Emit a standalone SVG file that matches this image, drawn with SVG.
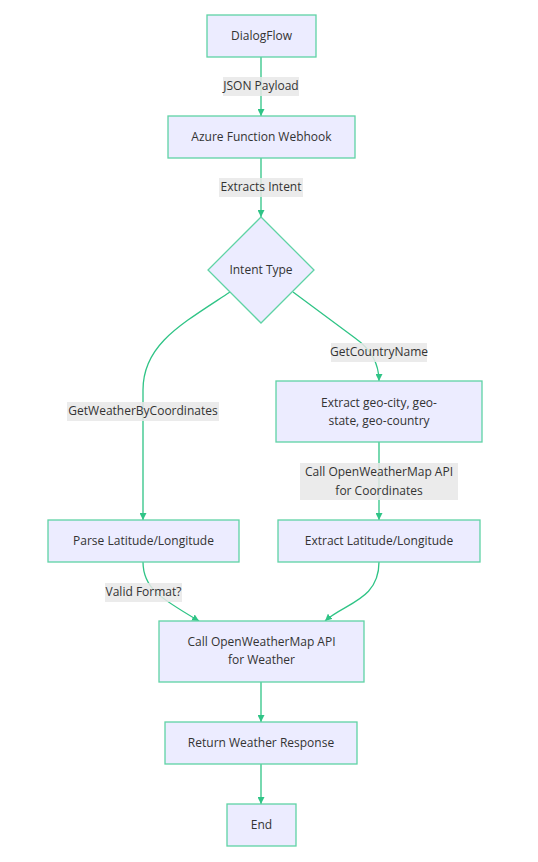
<svg xmlns="http://www.w3.org/2000/svg" width="538" height="862" viewBox="0 0 538 862">
<style>
.node rect,.node polygon{fill:#ECECFF;stroke:#5fd3a5;stroke-width:1.3}
.node text,.lbl text{font-family:"Open Sans","Liberation Sans",sans-serif;font-size:12px;fill:#333;text-anchor:middle;dominant-baseline:central}
.edge{fill:none;stroke:#2fc486;stroke-width:1.3}
.lbl rect{fill:#e8e8e8;opacity:0.85}
</style>
<defs>
<marker id="ah" viewBox="0 0 10 10" refX="10" refY="5" markerWidth="7" markerHeight="7" orient="auto" markerUnits="userSpaceOnUse">
<path d="M0,0 L10,5 L0,10 z" fill="#2fc486"/>
</marker>
</defs>
<rect width="538" height="862" fill="#fff"/>
<g id="connectors">
<path class="edge" d="M261,57 L261,116" marker-end="url(#ah)"/>
<path class="edge" d="M261,158 L261,217" marker-end="url(#ah)"/>
<path class="edge" d="M230,292 C180,325 143,345 143,390 L143,520" marker-end="url(#ah)"/>
<path class="edge" d="M293,292 L355,338 Q379,355 379,381" marker-end="url(#ah)"/>
<path class="edge" d="M379,442 L379,520" marker-end="url(#ah)"/>
<path class="edge" d="M143,562 C143,588 160,598 199,621" marker-end="url(#ah)"/>
<path class="edge" d="M379,562 C379,600 345,603 325,621" marker-end="url(#ah)"/>
<path class="edge" d="M261,682 L261,722" marker-end="url(#ah)"/>
<path class="edge" d="M261,764 L261,804" marker-end="url(#ah)"/>
</g>
<g id="edge-labels">
<g class="lbl"><rect x="223" y="77" width="76" height="19"/><text x="261" y="85.5">JSON Payload</text></g>
<g class="lbl"><rect x="219" y="178" width="84" height="19"/><text x="261" y="186.5">Extracts Intent</text></g>
<g class="lbl"><rect x="331" y="343" width="96" height="19"/><text x="379" y="351.5">GetCountryName</text></g>
<g class="lbl"><rect x="67" y="402" width="152" height="19"/><text x="143" y="410.5">GetWeatherByCoordinates</text></g>
<g class="lbl"><rect x="300" y="463" width="158" height="37"/><text x="379" y="471">Call OpenWeatherMap API</text><text x="379" y="490">for Coordinates</text></g>
<g class="lbl"><rect x="105" y="583" width="77" height="19"/><text x="143.5" y="591.5">Valid Format?</text></g>
</g>
<g id="n-dialogflow" class="node"><rect x="207" y="15" width="109" height="42"/><text x="261.5" y="35">DialogFlow</text></g>
<g id="n-azure" class="node"><rect x="168" y="116" width="187" height="42"/><text x="261.5" y="136">Azure Function Webhook</text></g>
<g id="n-intent" class="node"><polygon points="261,217 314,270 261,323 208,270"/><text x="261" y="269">Intent Type</text></g>
<g id="n-geo" class="node"><rect x="276" y="381" width="206" height="61"/><text x="379" y="402">Extract geo-city, geo-</text><text x="379" y="420">state, geo-country</text></g>
<g id="n-parse" class="node"><rect x="48" y="520" width="191" height="42"/><text x="143.5" y="540">Parse Latitude/Longitude</text></g>
<g id="n-extract" class="node"><rect x="278" y="520" width="202" height="42"/><text x="379" y="540">Extract Latitude/Longitude</text></g>
<g id="n-call" class="node"><rect x="159" y="621" width="205" height="61"/><text x="261.5" y="641">Call OpenWeatherMap API</text><text x="261.5" y="659">for Weather</text></g>
<g id="n-return" class="node"><rect x="165" y="722" width="192" height="42"/><text x="261" y="742">Return Weather Response</text></g>
<g id="n-end" class="node"><rect x="227" y="804" width="69" height="42"/><text x="261.5" y="824">End</text></g>
</svg>
